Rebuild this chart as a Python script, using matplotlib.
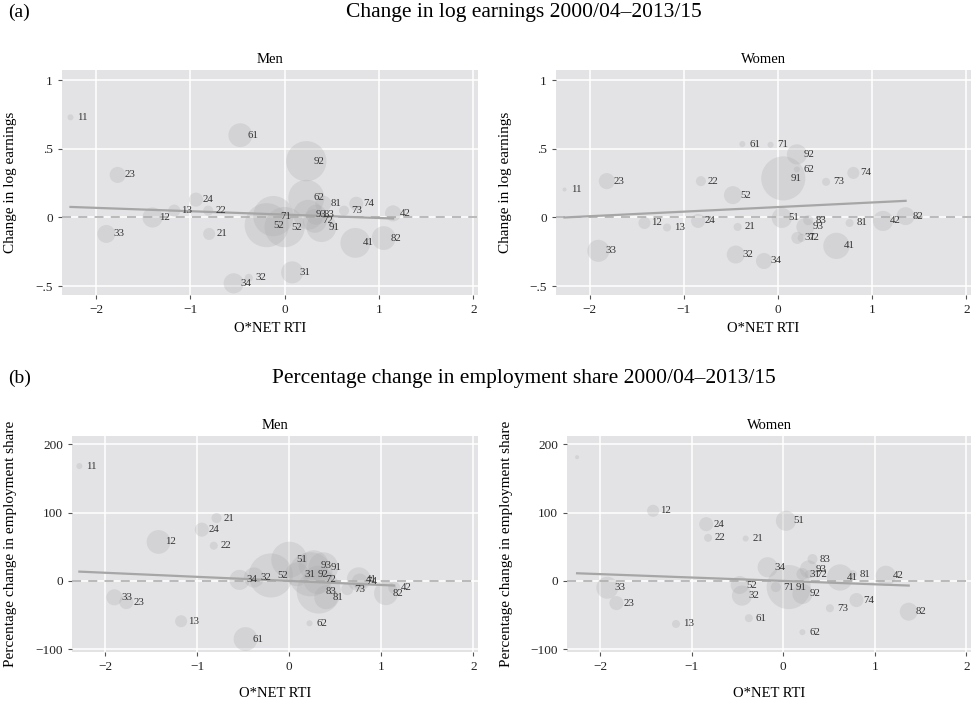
import numpy as np
import matplotlib.pyplot as plt

plt.rcParams['font.family'] = ['Liberation Serif', 'DejaVu Serif']

# (a) change in log earnings, men: ISCO code, O*NET RTI, change, employment weight
men_earn_code = ['11', '12', '13', '21', '22', '23', '24', '31', '32', '33', '34', '41', '42', '52',
                 '52', '61', '62', '71', '72', '73', '74', '81', '82', '83', '91', '92', '93']
men_earn_rti = [-2.27, -1.40, -1.17, -0.80, -0.81, -1.77, -0.94, 0.08, -0.38, -1.89, -0.54, 0.75, 1.15, -0.19,
                0.00, -0.47, 0.23, -0.12, 0.32, 0.63, 0.76, 0.41, 1.05, 0.335, 0.39, 0.23, 0.25]
men_earn_chg = [0.73, 0.00, 0.05, -0.12, 0.05, 0.31, 0.13, -0.40, -0.44, -0.12, -0.48, -0.185, 0.03, -0.056,
                -0.07, 0.60, 0.143, 0.01, -0.025, 0.05, 0.10, 0.10, -0.15, 0.02, -0.07, 0.41, 0.02]
men_earn_w = [0.9, 10, 3.6, 3.6, 2.5, 6.4, 4.9, 12, 1.6, 8, 10, 22, 6.4, 48,
              40, 14, 32, 40, 14, 2.5, 4.9, 6.4, 14, 10, 22, 40, 22]

# (a) women
wom_earn_code = ['11', '12', '13', '21', '22', '23', '24', '31', '32', '33', '34', '41', '42', '51',
                 '52', '61', '62', '71', '72', '73', '74', '81', '82', '83', '91', '92', '93']
wom_earn_rti = [-2.27, -1.42, -1.18, -0.43, -0.82, -1.82, -0.85, 0.205, -0.45, -1.91, -0.15, 0.62, 1.115, 0.04,
                -0.48, -0.38, 0.20, -0.08, 0.25, 0.51, 0.80, 0.76, 1.355, 0.32, 0.055, 0.20, 0.29]
wom_earn_chg = [0.204, -0.04, -0.073, -0.069, 0.265, 0.265, -0.025, -0.149, -0.27, -0.243, -0.317, -0.207, -0.025, -0.003,
                0.163, 0.535, 0.35, 0.53, -0.149, 0.26, 0.325, -0.04, 0.01, -0.02, 0.285, 0.46, -0.069]
wom_earn_w = [0.4, 3.6, 1.6, 1.6, 2.5, 6.4, 4.9, 3.6, 8, 12, 6.4, 17, 10, 10,
              8, 0.9, 0.9, 0.9, 1.6, 1.6, 3.6, 1.6, 8, 2.5, 48, 10, 8]

# (b) percentage change in employment share, men
men_emp_code = ['11', '12', '13', '21', '22', '23', '24', '31', '32', '33', '34', '41', '42', '51',
                '52', '61', '62', '72', '73', '74', '81', '82', '83', '91', '92', '93']
men_emp_rti = [-2.28, -1.42, -1.175, -0.79, -0.82, -1.77, -0.95, 0.084, -0.384, -1.90, -0.54, 0.755, 1.14, 0.0,
               -0.20, -0.475, 0.22, 0.31, 0.63, 0.766, 0.40, 1.05, 0.32, 0.37, 0.23, 0.265]
men_emp_chg = [168, 57, -59, 92, 51.5, -31, 75, 9.7, 5, -24, 1.5, 2.5, -10, 31,
               8, -85, -62, 1.5, -12, -1, -24, -18, -15.5, 20, 9.7, 23]
men_emp_w = [0.9, 14, 3.6, 2.5, 1.6, 4.9, 4.9, 14, 10, 6.4, 10, 14, 3.6, 32,
             48, 14, 0.9, 20, 3.6, 6.4, 14, 14, 48, 22, 48, 22]

# (b) women (top-left point carries no label)
wom_emp_code = ['', '12', '13', '21', '22', '23', '24', '31', '32', '33', '34', '41', '42', '51',
                '52', '61', '62', '71', '72', '73', '74', '81', '82', '83', '91', '92', '93']
wom_emp_rti = [-2.25, -1.42, -1.17, -0.41, -0.82, -1.82, -0.84, 0.21, -0.45, -1.92, -0.17, 0.62, 1.12, 0.03,
               -0.475, -0.375, 0.21, -0.08, 0.28, 0.51, 0.80, 0.76, 1.37, 0.32, 0.06, 0.21, 0.28]
wom_emp_chg = [181, 102.6, -63, 62, 63, -32.5, 83, 10, -21.5, -10, 20, 5, 7.5, 88,
               -6, -54.5, -75, -9, 10, -40, -28, 10, -45, 32, -9, -19, 17]
wom_emp_w = [0.4, 3.6, 1.6, 0.9, 1.6, 4.9, 4.9, 3.6, 10, 12, 10, 17, 10, 10,
             8, 1.6, 0.9, 2.5, 1.6, 1.6, 4.9, 1.6, 8, 2.5, 48, 10, 8]

# weighted fit lines: (intercept, slope)
fit_men_earn = (0.021, -0.0246)
fit_wom_earn = (0.076, 0.0334)
fit_men_emp = (0.0, -5.96)
fit_wom_emp = (0.0, -4.97)

x_ticks = [-2, -1, 0, 1, 2]
x_ticklabels = ['\u22122', '\u22121', '0', '1', '2']
earn_ticks = [-0.5, 0, 0.5, 1]
earn_ticklabels = ['\u2212.5', '0', '.5', '1']
emp_ticks = [-100, 0, 100, 200]
emp_ticklabels = ['\u2212100', '0', '100', '200']

W, H = 971, 707
fig = plt.figure(figsize=(W / 100, H / 100), dpi=100)


def px_axes(l, t, r, b):
    return fig.add_axes([l / W, 1 - b / H, (r - l) / W, (b - t) / H])


def panel(ax, code, rti, val, wt, fit, title, ylabel, yticks, yticklabels, ylim):
    ax.set_facecolor('#e3e3e5')
    for s in ax.spines.values():
        s.set_visible(False)
    ax.set_xlim(-2.36, 2.05)
    ax.set_ylim(*ylim)
    ax.set_xticks(x_ticks)
    ax.set_xticklabels(x_ticklabels)
    ax.set_yticks(yticks)
    ax.set_yticklabels(yticklabels)
    ax.grid(True, color='white', linewidth=1.1)
    ax.set_axisbelow(True)
    ax.tick_params(labelsize=9.5, length=3, color='#555555', labelcolor='#222222')
    ax.axhline(0, color='#b4b4b4', linestyle=(0, (5, 4)), linewidth=1.3, zorder=1)

    rti = np.array(rti)
    ax.scatter(rti, val, s=np.array(wt) * 21, color='#ababad', alpha=0.28,
               linewidths=0, zorder=2)
    xs = np.array([rti.min(), rti.max()])
    ax.plot(xs, fit[0] + fit[1] * xs, color='#a6a6a6', linewidth=1.6, zorder=3)
    for c, x, y in zip(code, rti, val):
        ax.annotate(c, (x, y), xytext=(5, 0), textcoords='offset points',
                    ha='left', va='center', fontsize=7.8, color='#333333', zorder=4)

    ax.set_title(title, fontsize=10.5, pad=5)
    ax.set_ylabel(ylabel, fontsize=11)
    ax.set_xlabel('O*NET RTI', fontsize=10.5)


earn_lim = (-0.565, 1.075)
emp_lim = (-104, 212)

ax1 = px_axes(62, 70, 478, 295)
panel(ax1, men_earn_code, men_earn_rti, men_earn_chg, men_earn_w, fit_men_earn,
      'Men', 'Change in log earnings', earn_ticks, earn_ticklabels, earn_lim)
ax2 = px_axes(556, 70, 971, 295)
panel(ax2, wom_earn_code, wom_earn_rti, wom_earn_chg, wom_earn_w, fit_wom_earn,
      'Women', 'Change in log earnings', earn_ticks, earn_ticklabels, earn_lim)
ax3 = px_axes(72, 436, 478, 652)
panel(ax3, men_emp_code, men_emp_rti, men_emp_chg, men_emp_w, fit_men_emp,
      'Men', 'Percentage change in employment share', emp_ticks, emp_ticklabels, emp_lim)
ax4 = px_axes(567, 436, 971, 652)
panel(ax4, wom_emp_code, wom_emp_rti, wom_emp_chg, wom_emp_w, fit_wom_emp,
      'Women', 'Percentage change in employment share', emp_ticks, emp_ticklabels, emp_lim)

ax1.yaxis.set_label_coords(-0.108, 0.5)
ax2.yaxis.set_label_coords(-0.106, 0.5)
ax3.yaxis.set_label_coords(-0.135, 0.5)
ax4.yaxis.set_label_coords(-0.134, 0.5)
for ax in (ax1, ax2):
    ax.xaxis.set_label_coords(0.5, -0.12)
for ax in (ax3, ax4):
    ax.xaxis.set_label_coords(0.5, -0.16)

fig.text(8 / W, 1 - 12 / H, '(a)', fontsize=14, ha='left', va='center')
fig.text(524 / W, 1 - 12 / H, 'Change in log earnings 2000/04\u20132013/15', fontsize=15.5,
         ha='center', va='center')
fig.text(8 / W, 1 - 378 / H, '(b)', fontsize=14, ha='left', va='center')
fig.text(524 / W, 1 - 378 / H, 'Percentage change in employment share 2000/04\u20132013/15', fontsize=15.5,
         ha='center', va='center')

fig.savefig('out.png', dpi=100, facecolor='white')
